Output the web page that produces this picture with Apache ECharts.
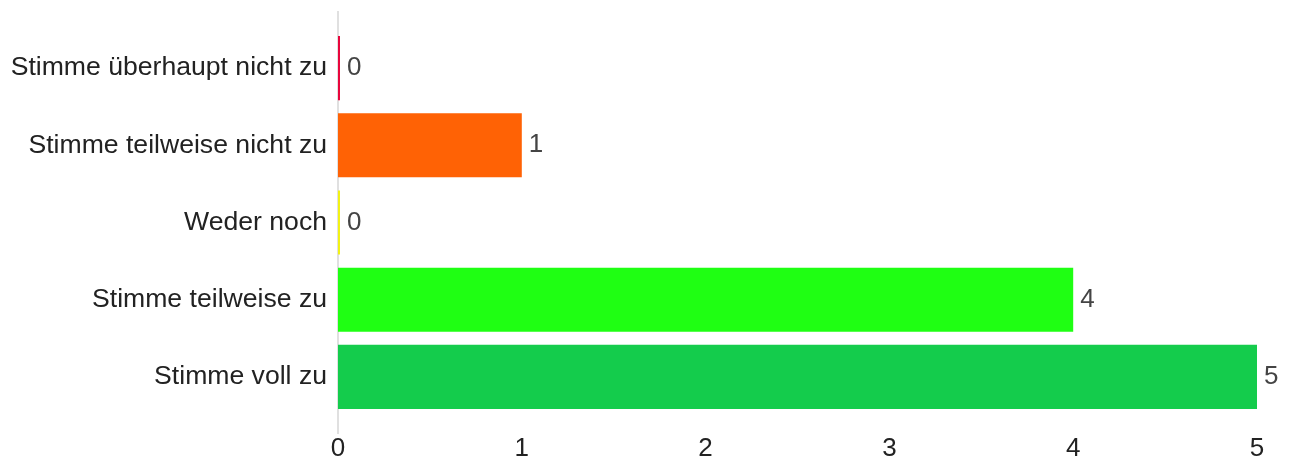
<!DOCTYPE html>
<html><head><meta charset="utf-8">
<script src="https://cdn.jsdelivr.net/npm/echarts@6/dist/echarts.min.js"></script>
<style>html,body{margin:0;padding:0;background:#fff}#c{width:1289px;height:466px}</style>
</head><body><div id="c"></div>
<script>
var categories = ["Stimme überhaupt nicht zu", "Stimme teilweise nicht zu", "Weder noch", "Stimme teilweise zu", "Stimme voll zu"];
var values = [0, 1, 0, 4, 5];
var colors = ["#e8063c", "#ff6205", "#f2f215", "#1fff13", "#14cc4c"];
var xTicks = [0, 1, 2, 3, 4, 5];

var chart = echarts.init(document.getElementById('c'));
var font = '"Liberation Sans", Arial, sans-serif';
chart.setOption({
  animation: false,
  grid: {left: 338, right: 32, top: 29.5, bottom: 50.5},
  xAxis: {
    type: 'value', min: xTicks[0], max: xTicks[xTicks.length-1], interval: 1,
    axisLine: {show: false}, axisTick: {show: false}, splitLine: {show: false},
    axisLabel: {color: '#222', fontSize: 26, fontFamily: font, margin: 20}
  },
  yAxis: {
    type: 'category', data: categories, inverse: true,
    axisLine: {show: false}, axisTick: {show: false},
    axisLabel: {color: '#222', fontSize: 26.6, fontFamily: font, margin: 11}
  },
  series: [{
    type: 'bar', barCategoryGap: '17%', barMinHeight: 2,
    data: values.map(function(v, i){ return {value: v, itemStyle: {color: colors[i]}}; }),
    label: {show: true, position: 'right', distance: 7, color: '#444', fontSize: 26, fontFamily: font}
  }]
});
var x0 = chart.convertToPixel({xAxisIndex: 0}, 0);
chart.setOption({graphic: [{type: 'line', z: -1, shape: {x1: x0, y1: 11, x2: x0, y2: 434}, style: {stroke: '#e0e0e0', lineWidth: 2}}]});
</script></body></html>
